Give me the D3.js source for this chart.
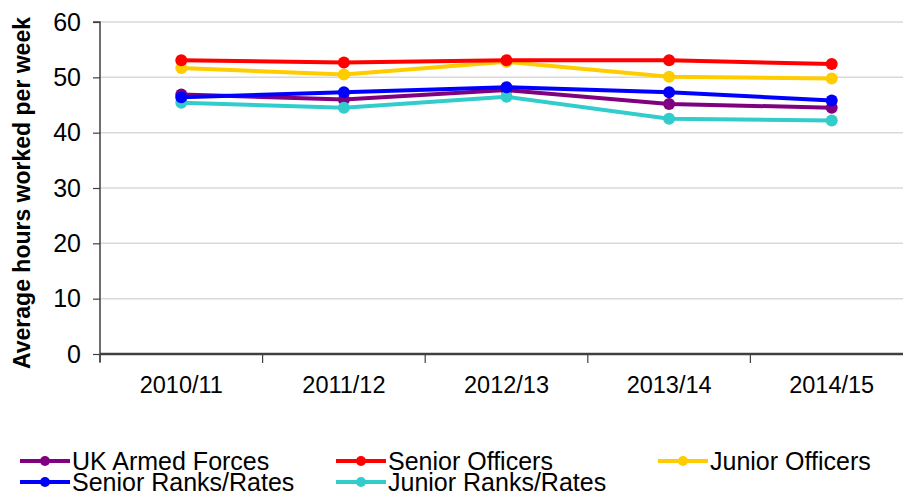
<!DOCTYPE html>
<html>
<head>
<meta charset="utf-8">
<script src="https://cdn.jsdelivr.net/npm/d3@7"></script>
<style>
  body { margin: 0; background: #fff; }
  svg { display: block; font-family: "Liberation Sans", Arial, sans-serif; }
</style>
</head>
<body>
<script>
const years = ['2010/11', '2011/12', '2012/13', '2013/14', '2014/15'];
const ukArmedForces = [46.9, 46.0, 47.7, 45.2, 44.5];
const seniorOfficers = [53.1, 52.7, 53.1, 53.1, 52.4];
const juniorOfficers = [51.7, 50.5, 52.8, 50.1, 49.8];
const seniorRanks = [46.4, 47.3, 48.2, 47.3, 45.8];
const juniorRanks = [45.4, 44.5, 46.5, 42.5, 42.2];
const yTicks = [0, 10, 20, 30, 40, 50, 60];

const series = [
  { name: 'UK Armed Forces', values: ukArmedForces, color: '#800080' },
  { name: 'Senior Officers', values: seniorOfficers, color: '#ff0000' },
  { name: 'Junior Officers', values: juniorOfficers, color: '#ffcc00' },
  { name: 'Senior Ranks/Rates', values: seniorRanks, color: '#0000ff' },
  { name: 'Junior Ranks/Rates', values: juniorRanks, color: '#33cccc' }
];
// draw order so red/yellow sit on top like the original
const drawOrder = [0, 4, 3, 2, 1];

const width = 903, height = 496;
const plotLeft = 100, plotRight = 913, plotTop = 22, plotBottom = 354;

const svg = d3.select('body')
  .append('svg')
  .attr('width', width)
  .attr('height', height);

const x = d3.scaleBand().domain(years).range([plotLeft, plotRight]);
const y = d3.scaleLinear().domain([0, 60]).range([plotBottom, plotTop]);

// grid lines
svg.append('g')
  .selectAll('line')
  .data(yTicks.filter(d => d > 0))
  .enter()
  .append('line')
  .attr('x1', plotLeft)
  .attr('x2', width)
  .attr('y1', d => y(d))
  .attr('y2', d => y(d))
  .attr('stroke', '#d9d9d9')
  .attr('stroke-width', 1.5);

// y axis
const yAxis = svg.append('g')
  .attr('transform', `translate(${plotLeft},0)`)
  .call(d3.axisLeft(y).tickValues(yTicks).tickSize(7).tickPadding(12));
yAxis.select('.domain').attr('stroke', '#404040').attr('stroke-width', 1.5)
  .attr('d', `M-7,${plotTop}H0V${plotBottom + 8}`);
yAxis.selectAll('.tick line').attr('stroke', '#404040').attr('stroke-width', 1.2);
yAxis.selectAll('.tick text')
  .attr('font-size', 25)
  .attr('fill', '#000')
  .attr('font-family', '"Liberation Sans", Arial, sans-serif');

// x axis
const xAxis = svg.append('g')
  .attr('transform', `translate(0,${plotBottom})`)
  .call(d3.axisBottom(x).tickSize(0).tickPadding(22));
xAxis.select('.domain').attr('stroke', '#404040').attr('stroke-width', 2.5)
  .attr('d', `M${plotLeft},0H${width}`);
xAxis.selectAll('.tick text')
  .attr('font-size', 23.5)
  .attr('fill', '#000')
  .attr('font-family', '"Liberation Sans", Arial, sans-serif');

// category boundary ticks
svg.append('g')
  .selectAll('line')
  .data(years)
  .enter()
  .append('line')
  .attr('x1', d => x(d))
  .attr('x2', d => x(d))
  .attr('y1', plotBottom)
  .attr('y2', plotBottom + 9)
  .attr('stroke', '#404040')
  .attr('stroke-width', 1.2);

// y axis title
svg.append('text')
  .attr('transform', `translate(30,${(plotTop + plotBottom) / 2 + 5}) rotate(-90)`)
  .attr('text-anchor', 'middle')
  .attr('font-size', 23)
  .attr('font-weight', 'bold')
  .text('Average hours worked per week');

const line = d3.line()
  .x((d, i) => x(years[i]) + x.bandwidth() / 2)
  .y(d => y(d));

drawOrder.forEach(k => {
  const s = series[k];
  const g = svg.append('g');
  g.append('path')
    .datum(s.values)
    .attr('fill', 'none')
    .attr('stroke', s.color)
    .attr('stroke-width', 4)
    .attr('d', line);
  g.selectAll('circle')
    .data(s.values)
    .enter()
    .append('circle')
    .attr('cx', (d, i) => x(years[i]) + x.bandwidth() / 2)
    .attr('cy', d => y(d))
    .attr('r', 6)
    .attr('fill', s.color);
});

// legend
const legendPos = [
  [20, 461], [336, 461], [658, 461],
  [20, 482], [336, 482]
];
series.forEach((s, i) => {
  const [lx, ly] = legendPos[i];
  const g = svg.append('g').attr('transform', `translate(${lx},${ly})`);
  g.append('line')
    .attr('x1', 0).attr('x2', 50)
    .attr('y1', 0).attr('y2', 0)
    .attr('stroke', s.color)
    .attr('stroke-width', 4);
  g.append('circle')
    .attr('cx', 25).attr('cy', 0).attr('r', 5)
    .attr('fill', s.color);
  g.append('text')
    .attr('x', 52)
    .attr('y', 9)
    .attr('font-size', 25)
    .text(s.name);
});
</script>
</body>
</html>
